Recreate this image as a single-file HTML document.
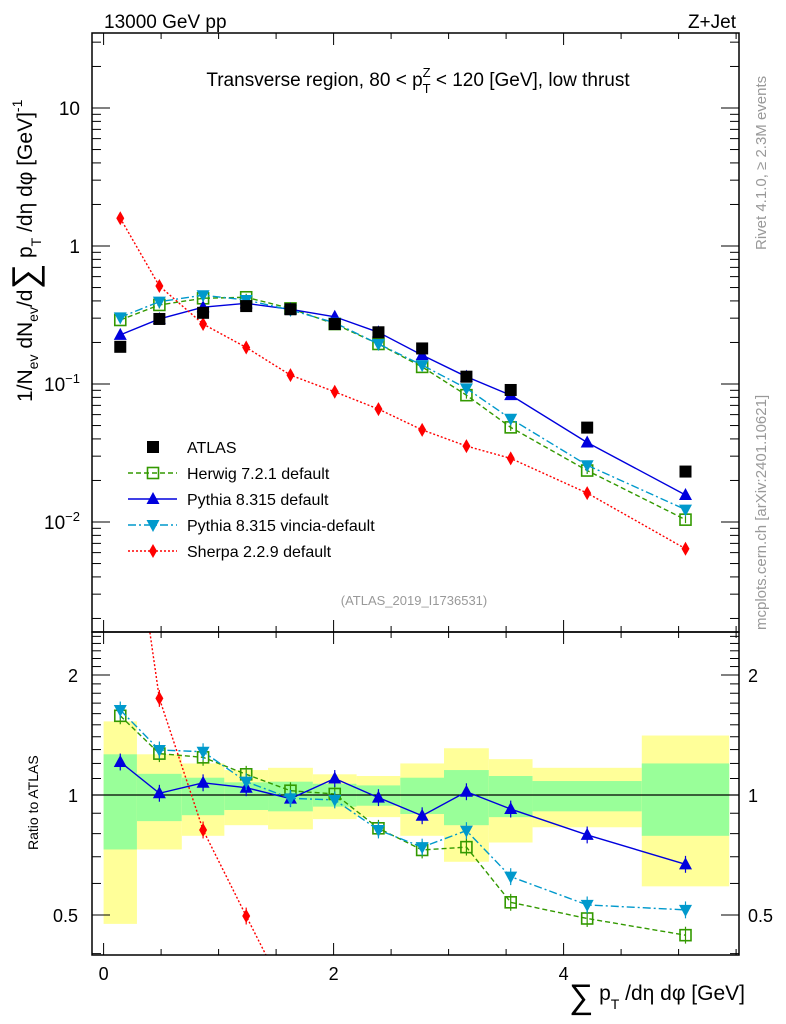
<!DOCTYPE html>
<html><head><meta charset="utf-8"><style>
html,body{margin:0;padding:0;background:#fff;}
svg{display:block;font-family:"Liberation Sans",sans-serif;}
</style></head><body>
<svg id="chart" width="786" height="1024" viewBox="0 0 786 1024" xmlns="http://www.w3.org/2000/svg">
<g id="bands"></g><g id="grid"></g><g id="series"></g><g id="axes"></g>
<text x="104" y="28" font-size="19">13000 GeV pp</text>
<text x="736" y="28" font-size="19" text-anchor="end">Z+Jet</text>
<text x="418" y="86" font-size="19" text-anchor="middle">Transverse region, 80 &lt; p<tspan font-size="13" dy="7">T</tspan><tspan font-size="13" dx="-8" dy="-16">Z</tspan><tspan dy="9"> &lt; 120 [GeV], low thrust</tspan></text>
<text transform="translate(766,250) rotate(-90)" font-size="15" fill="#999">Rivet 4.1.0, ≥ 2.3M events</text>
<text transform="translate(766,630) rotate(-90)" font-size="15" fill="#999">mcplots.cern.ch [arXiv:2401.10621]</text>
<text x="414" y="605" font-size="13" fill="#999" text-anchor="middle">(ATLAS_2019_I1736531)</text>
<text transform="translate(32,402) rotate(-90)" font-size="21">1/N<tspan font-size="14" dy="6">ev</tspan><tspan dy="-6"> dN</tspan><tspan font-size="14" dy="6">ev</tspan><tspan dy="-6">/d</tspan><tspan font-size="36" dy="5">∑</tspan><tspan dy="-5"> p</tspan><tspan font-size="14" dy="9">T</tspan><tspan dy="-9"> /dη dφ  [GeV]</tspan><tspan font-size="14" dy="-10">-1</tspan></text>
<text transform="translate(38,850) rotate(-90)" font-size="14">Ratio to ATLAS</text>
<text x="745" y="1000" font-size="21" text-anchor="end"><tspan font-size="34" dy="8">∑</tspan><tspan dy="-8"> p</tspan><tspan font-size="14" dy="9">T</tspan><tspan dy="-9"> /dη dφ [GeV]</tspan></text>
<g id="legend"></g>
</svg>
<script>
const binEdges=[0,0.29,0.68,1.05,1.43,1.82,2.2,2.58,2.96,3.35,3.73,4.68,5.44];
const atlas=[0.186,0.296,0.328,0.367,0.348,0.272,0.237,0.181,0.113,0.0905,0.0483,0.0232];
const herwig=[0.291,0.374,0.418,0.425,0.353,0.272,0.195,0.133,0.083,0.0485,0.0236,0.0104];
const pythia=[0.227,0.296,0.36,0.384,0.348,0.307,0.237,0.162,0.113,0.083,0.0377,0.0157];
const vincia=[0.304,0.395,0.44,0.406,0.344,0.278,0.195,0.137,0.093,0.056,0.0258,0.0123];
const sherpa=[1.59,0.513,0.272,0.184,0.116,0.0878,0.0658,0.0465,0.0355,0.0289,0.0162,0.0064];
const greenHi=[1.265,1.13,1.105,1.076,1.08,1.067,1.057,1.105,1.155,1.116,1.084,1.2];
const greenLo=[0.73,0.86,0.89,0.917,0.91,0.935,0.94,0.896,0.84,0.88,0.91,0.79];
const yellowHi=[1.53,1.265,1.2,1.155,1.17,1.127,1.116,1.2,1.31,1.23,1.17,1.41];
const yellowLo=[0.475,0.73,0.79,0.84,0.82,0.87,0.88,0.79,0.68,0.76,0.83,0.59];
const herwigR=[1.58,1.27,1.243,1.127,1.025,1.006,0.825,0.728,0.74,0.538,0.49,0.445];
const pythiaR=[1.21,1.01,1.073,1.043,0.979,1.10,0.985,0.887,1.019,0.922,0.794,0.67];
const vinciaR=[1.634,1.297,1.284,1.08,0.981,0.972,0.817,0.74,0.814,0.624,0.53,0.515];
const sherpaR=[8.4,1.747,0.817,0.497,0.3,0.3,0.3,0.3,0.3,0.3,0.3,0.3];
const xTicks=[0,2,4];
const mainTicks=[10,1,0.1,0.01];
const ratioTicks=[2,1,0.5];

const NS="http://www.w3.org/2000/svg";
const L=92,R=739,T=33,MB=632,RB=955;
const xs=v=>103.6+v*115;
const ym=v=>246-138*Math.log10(v);
const yr=v=>795-120*Math.log2(v);
const mids=binEdges.slice(0,-1).map((e,i)=>(e+binEdges[i+1])/2);
function el(tag,attrs,parent){const e=document.createElementNS(NS,tag);for(const k in attrs)e.setAttribute(k,attrs[k]);parent.appendChild(e);return e;}
const gB=document.getElementById('bands'),gS=document.getElementById('series'),gA=document.getElementById('axes'),gL=document.getElementById('legend');

for(let i=0;i<mids.length;i++){
  const x0=xs(binEdges[i]),x1=xs(binEdges[i+1]);
  const yb=el('rect',{x:x0,y:yr(yellowHi[i]),width:x1-x0,height:yr(yellowLo[i])-yr(yellowHi[i]),fill:'#ffff99'},gB);
  
  
  const gb=el('rect',{x:x0,y:yr(greenHi[i]),width:x1-x0,height:yr(greenLo[i])-yr(greenHi[i]),fill:'#99ff99'},gB);
  
  
}
el('line',{x1:L,x2:R,y1:yr(1),y2:yr(1),stroke:'#000','stroke-width':1.3},gB);

const defs=el('defs',{},gS);
const c1=el('clipPath',{id:'cm'},defs);el('rect',{x:L,y:T,width:R-L,height:MB-T},c1);
const c2=el('clipPath',{id:'cr'},defs);el('rect',{x:L,y:MB,width:R-L,height:RB-MB},c2);

function marker(g,type,x,y,color){
  let m;
  if(type==='sq')m=el('rect',{x:x-6,y:y-6,width:12,height:12,fill:'#000'},g);
  else if(type==='osq')m=el('rect',{x:x-5.5,y:y-5.5,width:11,height:11,fill:'none',stroke:color,'stroke-width':1.6},g);
  else if(type==='up')m=el('polygon',{points:`${x},${y-7} ${x-6.5},${y+5} ${x+6.5},${y+5}`,fill:color},g);
  else if(type==='dn')m=el('polygon',{points:`${x},${y+7} ${x-6.5},${y-5} ${x+6.5},${y-5}`,fill:color},g);
  else m=el('polygon',{points:`${x},${y-7} ${x-4},${y} ${x},${y+7} ${x+4},${y}`,fill:color},g);
  return m;
}
const defsS=[
 {name:'herwig',vals:herwig,rat:herwigR,color:'#339900',dash:'5,3',m:'osq'},
 {name:'pythia',vals:pythia,rat:pythiaR,color:'#0000dd',dash:'',m:'up'},
 {name:'vincia',vals:vincia,rat:vinciaR,color:'#0099cc',dash:'8,3,2,3',m:'dn'},
 {name:'sherpa',vals:sherpa,rat:sherpaR,color:'#ff0000',dash:'2,2',m:'dia'}
];
for(const s of defsS){
  const g=el('g',{'clip-path':'url(#cm)'},gS);
  
  
  el('polyline',{points:s.vals.map((v,i)=>xs(mids[i])+','+ym(v)).join(' '),fill:'none',stroke:s.color,'stroke-width':1.4,'stroke-dasharray':s.dash},g);
  s.vals.forEach((v,i)=>{
    el('line',{x1:xs(mids[i]),x2:xs(mids[i]),y1:ym(v*1.06),y2:ym(v/1.06),stroke:s.color,'stroke-width':1.2},g);
    const m=marker(g,s.m,xs(mids[i]),ym(v),s.color);
    
    
  });
  const gr=el('g',{'clip-path':'url(#cr)'},gS);
  
  
  el('polyline',{points:s.rat.map((v,i)=>xs(mids[i])+','+yr(v)).join(' '),fill:'none',stroke:s.color,'stroke-width':1.4,'stroke-dasharray':s.dash},gr);
  s.rat.forEach((v,i)=>{
    el('line',{x1:xs(mids[i]),x2:xs(mids[i]),y1:yr(v*1.05),y2:yr(v/1.05),stroke:s.color,'stroke-width':1.2},gr);
    const m=marker(gr,s.m,xs(mids[i]),yr(v),s.color);
    
    
  });
}
atlas.forEach((v,i)=>{
  const m=marker(gS,'sq',xs(mids[i]),ym(v),'#000');
  
  
});

el('rect',{x:L,y:T,width:R-L,height:MB-T,fill:'none',stroke:'#000','stroke-width':1.5},gA);
el('rect',{x:L,y:MB,width:R-L,height:RB-MB,fill:'none',stroke:'#000','stroke-width':1.5},gA);
for(let v=0;v<=5.5;v+=0.5){
  const x=xs(v),len=(v%2===0)?12:6;
  [[MB,-1],[T,1],[RB,-1],[MB,1]].forEach(([y,d])=>el('line',{x1:x,x2:x,y1:y,y2:y+d*len,stroke:'#000','stroke-width':1},gA));
}
xTicks.forEach(v=>{
  const t=el('text',{x:xs(v),y:980,'font-size':18,'text-anchor':'middle'},gA);t.textContent=v;
  
  
});
for(let e=-3;e<=1;e++)for(let k=1;k<10;k++){
  const v=k*Math.pow(10,e),y=ym(v);if(y<T||y>MB)continue;
  const len=k===1?18:9;
  el('line',{x1:L,x2:L+len,y1:y,y2:y,stroke:'#000'},gA);
  el('line',{x1:R,x2:R-len,y1:y,y2:y,stroke:'#000'},gA);
}
const mainLab=['10','1','10<tspan font-size="13" dy="-8">−1</tspan>','10<tspan font-size="13" dy="-8">−2</tspan>'];
mainTicks.forEach((v,i)=>{
  const t=el('text',{x:v>=1?80:44,y:ym(v)+7,'font-size':19,'text-anchor':v>=1?'end':'start'},gA);t.innerHTML=mainLab[i];
  
  
});
for(let v=0.4;v<=2.6;v+=0.1){
  const y=yr(v);if(y<MB||y>RB)continue;
  const big=ratioTicks.some(r=>Math.abs(r-v)<1e-6);
  el('line',{x1:L,x2:L+(big?18:9),y1:y,y2:y,stroke:'#000'},gA);
  el('line',{x1:R,x2:R-(big?18:9),y1:y,y2:y,stroke:'#000'},gA);
}
ratioTicks.forEach(v=>{
  const t=el('text',{x:78,y:yr(v)+7,'font-size':18,'text-anchor':'end'},gA);t.textContent=v;
  
  
  const t2=el('text',{x:748,y:yr(v)+7,'font-size':18},gA);t2.textContent=v;
  
  
});
const leg=[['ATLAS','sq','#000',''],['Herwig 7.2.1 default','osq','#339900','5,3'],['Pythia 8.315 default','up','#0000dd',''],['Pythia 8.315 vincia-default','dn','#0099cc','8,3,2,3'],['Sherpa 2.2.9 default','dia','#ff0000','2,2']];
leg.forEach((l,i)=>{
  const y=447+i*26;
  const g=el('g',{},gL);
  
  
  if(i>0)el('line',{x1:128,x2:177,y1:y,y2:y,stroke:l[2],'stroke-width':1.4,'stroke-dasharray':l[3]},g);
  marker(g,l[1],153,y,l[2]);
  const t=el('text',{x:187,y:y+6,'font-size':16},g);t.textContent=l[0];
});
</script>
</body></html>
